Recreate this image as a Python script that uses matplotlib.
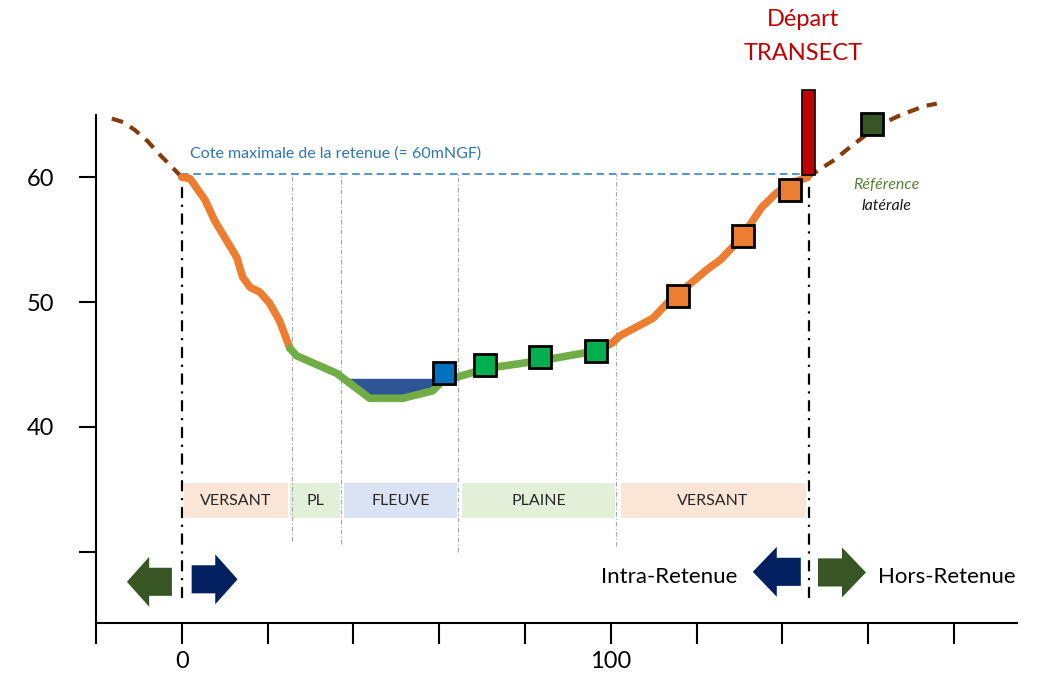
import matplotlib.pyplot as plt
from matplotlib.patches import Rectangle, FancyArrow
import numpy as np

plt.rcParams['font.family'] = ['Lato', 'DejaVu Sans']

# profil du transect (distance, cote)
versant_g_x = [0, 1.9, 5.4, 7.7, 10.5, 12.8, 14.2, 15.9, 18.2, 20.5, 22.8, 25.2]
versant_g_y = [60, 59.9, 58.2, 56.5, 54.9, 53.6, 52.0, 51.2, 50.8, 49.9, 48.5, 46.3]

fond_x = [25.2, 26.8, 36.1, 43.8, 51.5, 58.5, 60.8, 63.2, 71.1, 83.4, 96.7, 100.2]
fond_y = [46.3, 45.7, 44.3, 42.3, 42.3, 42.9, 43.7, 43.9, 44.7, 45.3, 46.1, 46.7]

versant_d_x = [100.2, 102.1, 109.8, 113.1, 115.9, 122.4, 125.6, 130.3, 135.2, 138.5, 141.7, 145.9]
versant_d_y = [46.7, 47.3, 48.7, 49.9, 50.7, 52.6, 53.4, 55.1, 57.6, 58.7, 59.5, 60.0]

hors_g_x = [-16.3, -13.5, -11.0, -8.0, -5.1, -2.5, 0]
hors_g_y = [64.7, 64.4, 63.8, 62.9, 61.8, 60.9, 60]
hors_d_x = [145.9, 149.0, 152.2, 155.0, 158.0, 161.0, 164.0, 167.0, 170.0, 173.0, 176.0]
hors_d_y = [60.0, 60.7, 61.4, 62.2, 63.0, 63.8, 64.4, 64.9, 65.3, 65.7, 65.9]

cote_max = 60.3
niveau_eau = 43.9

# points de prelevement
pt_fleuve = (61.1, 44.3)
pts_plaine_x = [70.6, 83.4, 96.5]
pts_plaine_y = [45.0, 45.6, 46.1]
pts_versant_x = [115.6, 130.8, 141.7]
pts_versant_y = [50.5, 55.3, 59.0]
pt_ref = (160.8, 64.3)

# zones
zones = ["VERSANT", "PL", "FLEUVE", "PLAINE", "VERSANT"]
zones_debut = [0.6, 25.3, 37.9, 65.4, 102.3]
zones_fin = [24.7, 36.8, 64.1, 101.0, 145.4]
zones_couleur = ["#FBE5D6", "#E2F0D9", "#DAE3F3", "#E2F0D9", "#FBE5D6"]
limites_x = [25.6, 37.1, 64.3, 101.2]
limites_bas = [30.9, 30.6, 30.0, 30.5]

fig = plt.figure(figsize=(10.38, 6.73), dpi=100)
ax = fig.add_axes([96 / 1038, 50 / 673, 921 / 1038, 623 / 673])
ax.set_xlim(-20, 194.7)
ax.set_ylim(24.3, 74.2)

for s in ["top", "right"]:
    ax.spines[s].set_visible(False)
ax.spines["left"].set_bounds(24.3, 65)
ax.spines["left"].set_linewidth(1.5)
ax.spines["bottom"].set_linewidth(1.5)

ax.set_xticks(range(-20, 181, 20))
ax.set_xticklabels(["0" if t == 0 else "100" if t == 100 else "" for t in range(-20, 181, 20)])
ax.set_yticks([30, 40, 50, 60])
ax.set_yticklabels(["", "40", "50", "60"])
ax.tick_params(axis="x", length=15, width=1.5, pad=5, labelsize=17)
ax.tick_params(axis="y", length=12, width=1.5, pad=18, labelsize=17)

# lignes de limite
ax.plot([-0.1, 145.9], [cote_max, cote_max], color="#2E75B6", lw=1.1, ls=(0, (5, 3)))
ax.text(1.9, 61.9, "Cote maximale de la retenue (= 60mNGF)", color="#2E75B6",
        fontsize=11.5, va="center", ha="left")
for xl, yb in zip(limites_x, limites_bas):
    ax.plot([xl, xl], [yb, cote_max], color="#A6A6A6", lw=0.8, ls=(0, (4, 2, 1, 2)))
for xl in [0, 146.2]:
    ax.plot([xl, xl], [26.3, 60], color="black", lw=1.6, ls=(0, (5, 3, 1, 3)))

# zones
for nom, d, f, c in zip(zones, zones_debut, zones_fin, zones_couleur):
    ax.add_patch(Rectangle((d, 32.7), f - d, 2.8, facecolor=c, edgecolor="none"))
    ax.text((d + f) / 2, 34.1, nom, ha="center", va="center", fontsize=11.5, color="#262626")

# eau du fleuve
fx = np.array(fond_x)
fy = np.array(fond_y)
ax.fill_between(fx, fy, niveau_eau, where=fy <= niveau_eau, interpolate=True,
                color="#2F5597", lw=0, zorder=2)

# profil
ax.plot(hors_g_x, hors_g_y, color="#843C0C", lw=3, ls=(0, (2.8, 2)), zorder=3)
ax.plot(hors_d_x, hors_d_y, color="#843C0C", lw=3, ls=(0, (2.8, 2)), zorder=3)
ax.plot(versant_g_x, versant_g_y, color="#ED7D31", lw=5.5, solid_capstyle="round",
        solid_joinstyle="round", zorder=3)
ax.plot(fond_x, fond_y, color="#70AD47", lw=5.5, solid_capstyle="round",
        solid_joinstyle="round", zorder=3)
ax.plot(versant_d_x, versant_d_y, color="#ED7D31", lw=5.5, solid_capstyle="round",
        solid_joinstyle="round", zorder=3)

mk = dict(marker="s", ms=16, mec="black", mew=2, ls="none", zorder=5)
ax.plot(*pt_fleuve, mfc="#0070C0", **mk)
ax.plot(pts_plaine_x, pts_plaine_y, mfc="#00B050", **mk)
ax.plot(pts_versant_x, pts_versant_y, mfc="#ED7D31", **mk)
ax.plot(*pt_ref, mfc="#375623", **mk)

# depart du transect
ax.add_patch(Rectangle((144.5, 60.2), 3.0, 6.8, facecolor="#C00000",
                       edgecolor="black", lw=1.2, zorder=6))
ax.text(144.8, 72.6, "Départ", ha="center", va="center", fontsize=17, color="#C00000")
ax.text(144.8, 69.9, "TRANSECT", ha="center", va="center", fontsize=17, color="#C00000")
ax.text(164.2, 59.4, "Référence", ha="center", va="center", fontsize=11.5,
        style="italic", color="#548235")
ax.text(164.2, 57.7, "latérale", ha="center", va="center", fontsize=11.5,
        style="italic", color="#1A1A1A")

# fleches intra / hors retenue
fl = dict(width=2.25, head_width=4.0, length_includes_head=True, lw=0, zorder=4)
ax.add_patch(FancyArrow(-2.3, 27.6, -10.5, 0, head_length=5.2, color="#375623", **fl))
ax.add_patch(FancyArrow(2.3, 27.8, 10.7, 0, head_length=5.2, color="#002060", **fl))
ax.add_patch(FancyArrow(144.3, 28.4, -11.2, 0, head_length=5.6, color="#002060", **fl))
ax.add_patch(FancyArrow(148.3, 28.35, 11.2, 0, head_length=5.6, color="#375623", **fl))
ax.text(129.6, 28.0, "Intra-Retenue", ha="right", va="center", fontsize=16)
ax.text(162.2, 28.0, "Hors-Retenue", ha="left", va="center", fontsize=16)

plt.savefig("out.png", dpi=100)
